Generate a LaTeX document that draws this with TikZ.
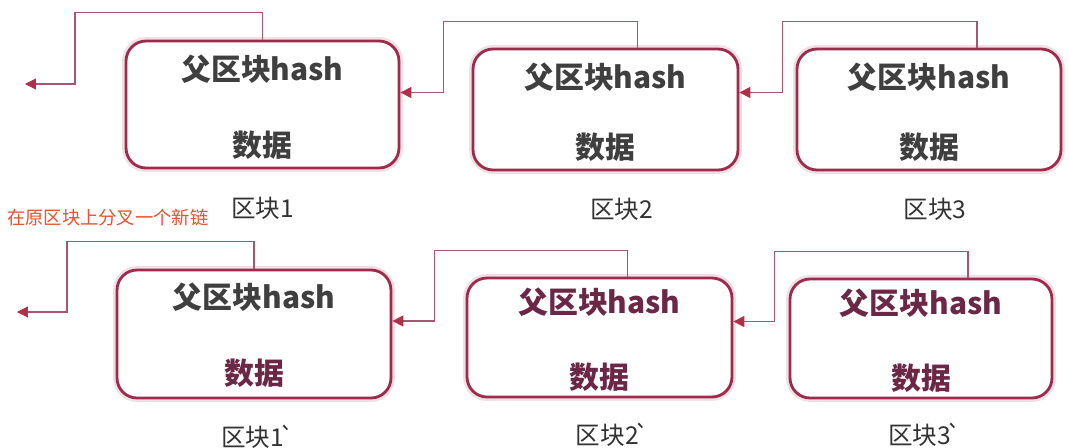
\documentclass[tikz,border=0pt]{standalone}
\usepackage{fontspec}
\setmainfont{Noto Sans CJK SC}
\usetikzlibrary{calc,arrows.meta}
\definecolor{blkred}{HTML}{9E2A4C}
\definecolor{linkred}{HTML}{A8566F}
\definecolor{tipred}{HTML}{B0304A}
\definecolor{txtgray}{HTML}{3F3F3F}
\definecolor{txtwine}{HTML}{6B2745}
\definecolor{notered}{HTML}{E5532F}
\newcommand{\tick}{\kern-0.18em\textasciigrave}
\tikzset{
  % a block of the chain, with a faint glow round it
  blk/.style={rounded corners=0.4cm, draw=blkred, line width=1.6pt, fill=white,
    minimum width=5.3cm, minimum height=2.42cm,
    preaction={draw=blkred!15, line width=4.5pt}},
  hashtxt/.style={font=\fontsize{17pt}{20pt}\selectfont\bfseries, text=txtgray, inner sep=0pt},
  datatxt/.style={hashtxt},
  tag/.style={font=\fontsize{14pt}{16pt}\selectfont, text=black!80, inner sep=0pt},
  note/.style={font=\fontsize{10.4pt}{12pt}\selectfont, text=notered, inner sep=0pt},
  % pointer to the parent block
  link/.style={draw=linkred, line width=0.6pt,
    -{Triangle[length=2.2mm,width=2.2mm,color=tipred]}},
}

\begin{document}
\begin{tikzpicture}[x=0.02cm, y=-0.02cm]
  \useasboundingbox (0,0) rectangle (1069,447);
  \fill[white] (0,0) rectangle (1069,447);

  % original chain
  \node [blk, minimum width=5.46cm, minimum height=2.54cm] at (262.5,104.5) (b1) {};
  \node [blk] at (605.5,109.5) (b2) {};
  \node [blk, minimum width=5.28cm] at (929,109.5) (b3) {};
  \foreach \b in {b1,b2,b3} {
    \node [hashtxt] at ($(\b.north)+(0,30)$) (\b h) {父区块hash};
    \node [datatxt] at ($(\b.south)-(0,24)$) (\b d) {数据};
  }
  \node [tag] at ($(b1.south)+(0,39)$) (l1) {区块1};
  \node [tag] at ($(b2.south)+(16,38)$) (l2) {区块2};
  \node [tag] at ($(b3.south)+(6,38)$) (l3) {区块3};

  \coordinate (end1) at (25,84);
  \draw [link] (b1.north) -- ++(0,-27) -| ($(end1)+(50,0)$) -- (end1);
  \draw [link] ($(b2.north)+(32,0)$) -- ++(0,-26) -| ($(b1.east)+(43,-12)$) -- ($(b1.east)+(0,-12)$);
  \draw [link] ($(b3.north)+(48,0)$) -- ++(0,-26) -| ($(b2.east)+(43,-17)$) -- ($(b2.east)+(0,-17)$);

  \node [note, anchor=west] at (7,218) (fork) {在原区块上分叉一个新链};

  % forked chain
  \node [blk, minimum width=5.48cm, minimum height=2.56cm] at (254,334) (f1) {};
  \node [blk, minimum height=2.38cm] at (599.5,337.5) (f2) {};
  \node [blk, minimum width=5.24cm, minimum height=2.38cm] at (921,338.5) (f3) {};
  \node [hashtxt] at ($(f1.north)+(0,29)$) (f1h) {父区块hash};
  \node [datatxt, text=txtwine] at ($(f1.south)-(0,26)$) (f1d) {数据};
  \foreach \b in {f2,f3} {
    \node [hashtxt, text=txtwine] at ($(\b.north)+(0,26)$) (\b h) {父区块hash};
    \node [datatxt, text=txtwine] at ($(\b.south)-(0,21)$) (\b d) {数据};
  }
  \node [tag] at ($(f1.south)+(4,37)$) (m1) {区块1\tick};
  \node [tag] at ($(f2.south)+(13,36)$) (m2) {区块2\tick};
  \node [tag] at ($(f3.south)+(4,35)$) (m3) {区块3\tick};

  \coordinate (end2) at (17,312);
  \draw [link] (f1.north) -- ++(0,-27) -| ($(end2)+(50,0)$) -- (end2);
  \draw [link] ($(f2.north)+(28,0)$) -- ++(0,-26) -| ($(f1.east)+(42,-13)$) -- ($(f1.east)+(0,-13)$);
  \draw [link] ($(f3.north)+(47,0)$) -- ++(0,-26) -| ($(f2.east)+(41,-16)$) -- ($(f2.east)+(0,-16)$);

\end{tikzpicture}
\end{document}
